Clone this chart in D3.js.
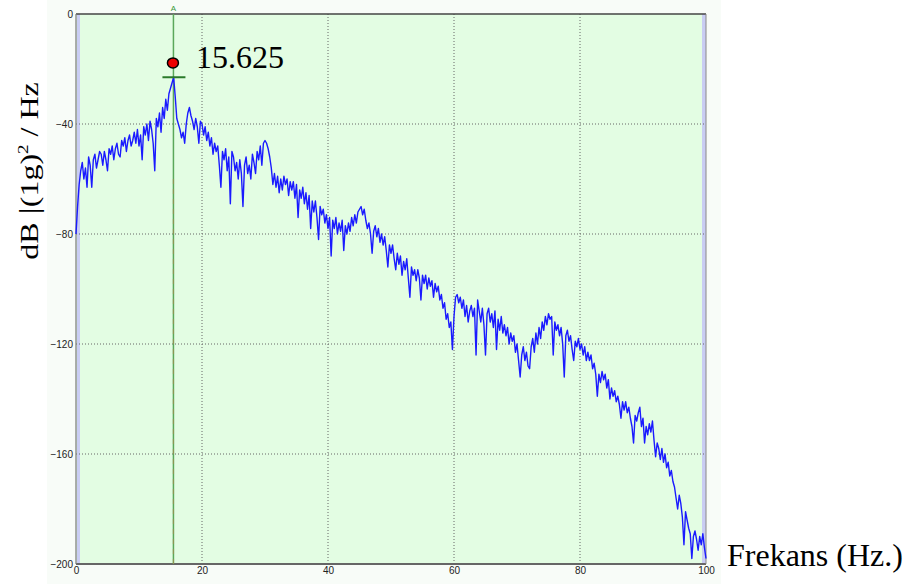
<!DOCTYPE html>
<html><head><meta charset="utf-8">
<script src="https://cdn.jsdelivr.net/npm/d3@7"></script>
<style>body{margin:0;background:#fff}svg{display:block}</style>
</head><body>
<script>
const freqStep = 0.25;
const psdValues = [
-80,-70,-62,-57,-54,-60,-56,-63,-52,-55,-63,-53,-51,-56,-53,-50,-51,-55,-50,-53,
-57,-49,-51,-48,-53,-49,-47,-51,-52,-46,-48,-45,-50,-46,-44,-48,-46,-43,-47,-42,
-48,-44,-53,-41,-44,-40,-46,-39,-42,-47,-57,-38,-41,-36,-43,-34,-38,-31,-35,-29,
-27,-25,-23,-30,-38,-40,-42,-45,-43,-47,-40,-36,-34,-37,-39,-42,-38,-41,-47,-39,
-40,-44,-41,-46,-43,-48,-45,-51,-47,-50,-48,-55,-63,-50,-53,-49,-57,-52,-69,-50,
-52,-57,-54,-60,-53,-58,-70,-55,-52,-58,-55,-60,-51,-54,-58,-50,-53,-48,-55,-47,
-46,-47,-49,-52,-56,-62,-58,-63,-59,-65,-60,-64,-59,-62,-60,-66,-61,-64,-61,-67,
-62,-74,-64,-67,-63,-69,-65,-71,-66,-78,-68,-72,-68,-74,-82,-70,-73,-71,-76,-73,
-78,-74,-88,-75,-78,-74,-80,-76,-79,-75,-86,-77,-80,-76,-79,-74,-77,-73,-76,-72,
-71,-70,-73,-71,-75,-78,-76,-80,-87,-79,-77,-81,-78,-83,-80,-84,-81,-86,-92,-84,
-87,-84,-89,-93,-87,-91,-88,-95,-90,-93,-89,-96,-103,-92,-95,-93,-97,-93,-96,-104,
-95,-98,-95,-100,-96,-99,-97,-103,-98,-101,-99,-104,-102,-107,-105,-111,-109,-114,-112,-122,
-110,-103,-102,-105,-103,-107,-104,-110,-106,-112,-108,-106,-110,-107,-124,-104,-108,-112,-107,-113,
-124,-109,-107,-112,-109,-114,-108,-122,-111,-115,-110,-116,-113,-117,-114,-120,-116,-119,-117,-123,
-120,-126,-132,-124,-121,-126,-123,-128,-129,-121,-118,-123,-116,-120,-114,-118,-112,-115,-110,-113,
-109,-111,-110,-124,-112,-115,-113,-117,-114,-120,-132,-117,-115,-119,-117,-122,-126,-119,-121,-118,
-122,-120,-124,-121,-126,-123,-126,-124,-129,-127,-131,-139,-131,-134,-130,-133,-131,-136,-133,-140,
-136,-139,-137,-141,-139,-142,-147,-141,-144,-141,-145,-143,-147,-150,-156,-146,-148,-145,-143,-150,
-147,-156,-150,-153,-149,-152,-148,-155,-161,-156,-158,-162,-158,-163,-160,-165,-163,-168,-166,-170,
-172,-176,-180,-175,-178,-183,-193,-181,-184,-187,-189,-198,-190,-188,-191,-195,-190,-193,-189,-194,
-198];
const xTicks = [0,20,40,60,80,100];
const yTicks = [0,-40,-80,-120,-160,-200];
const markerFreq = [15.625];
const markerLabel = ["15.625"];

const W=907,H=584;
const svg=d3.select("body").append("svg").attr("width",W).attr("height",H);
const x=d3.scaleLinear().domain([0,100]).range([76,706]);
const y=d3.scaleLinear().domain([-200,0]).range([564,14]);

svg.append("rect").attr("x",47).attr("y",0).attr("width",674).attr("height",H).attr("fill","#f8fcf8");
svg.append("rect").attr("x",x(0)).attr("y",y(0)).attr("width",x(100)-x(0)).attr("height",y(-200)-y(0)).attr("fill","#e3fde3");
svg.append("rect").attr("x",x(0)+1).attr("y",y(0)).attr("width",3).attr("height",y(-200)-y(0)).attr("fill","#c9cdf3");
svg.append("rect").attr("x",x(100)-4).attr("y",y(0)).attr("width",4).attr("height",y(-200)-y(0)).attr("fill","#c9cdf3");

// grid
svg.append("g").selectAll("line").data(xTicks.filter(d=>d>0&&d<100)).join("line")
 .attr("x1",d=>x(d)).attr("x2",d=>x(d)).attr("y1",y(0)).attr("y2",y(-200))
 .attr("stroke","#666").attr("stroke-width",1).attr("stroke-dasharray","1,2");
svg.append("g").selectAll("line").data(yTicks.filter(d=>d<0&&d>-200)).join("line")
 .attr("x1",x(0)).attr("x2",x(100)).attr("y1",d=>y(d)).attr("y2",d=>y(d))
 .attr("stroke","#666").attr("stroke-width",1).attr("stroke-dasharray","1,2");

// border
svg.append("line").attr("x1",x(0)).attr("x2",x(100)).attr("y1",y(0)).attr("y2",y(0)).attr("stroke","#444").attr("stroke-width",1.5);
svg.append("line").attr("x1",x(0)).attr("x2",x(100)).attr("y1",y(-200)).attr("y2",y(-200)).attr("stroke","#666").attr("stroke-width",2);
svg.append("line").attr("x1",x(0)).attr("x2",x(0)).attr("y1",y(0)).attr("y2",y(-200)).attr("stroke","#777").attr("stroke-width",1.2);
svg.append("line").attr("x1",x(100)).attr("x2",x(100)).attr("y1",y(0)).attr("y2",y(-200)).attr("stroke","#888").attr("stroke-width",1);

// axes tick labels
const yAxis=d3.axisLeft(y).tickValues(yTicks).tickSize(0).tickPadding(3);
const gy=svg.append("g").attr("transform",`translate(${x(0)},0)`).call(yAxis);
gy.select(".domain").remove();
gy.selectAll("text").attr("font-family","Arial, Liberation Sans, sans-serif").attr("font-size",10).attr("fill","#222");
const xAxis=d3.axisBottom(x).tickValues(xTicks).tickSize(0).tickPadding(3);
const gx=svg.append("g").attr("transform",`translate(0,${y(-200)})`).call(xAxis);
gx.select(".domain").remove();
gx.selectAll("text").attr("font-family","Arial, Liberation Sans, sans-serif").attr("font-size",10).attr("fill","#222");

// marker vertical line
svg.selectAll(".mk").data(markerFreq).join("line").attr("class","mk")
 .attr("x1",d=>x(d)-1).attr("x2",d=>x(d)-1).attr("y1",y(0)).attr("y2",y(-200))
 .attr("stroke","#5aa85a").attr("stroke-width",1.5);
svg.selectAll(".mkd").data(markerFreq).join("line").attr("class","mkd")
 .attr("x1",d=>x(d)-1).attr("x2",d=>x(d)-1).attr("y1",y(-60)).attr("y2",y(-200))
 .attr("stroke","#b08a50").attr("stroke-width",1.2).attr("stroke-dasharray","5,5").attr("opacity",0.6);
svg.selectAll(".mka").data(markerFreq).join("text").attr("class","mka")
 .attr("x",d=>x(d)-1).attr("y",11).attr("text-anchor","middle")
 .attr("font-family","Arial, Liberation Sans, sans-serif").attr("font-size",8).attr("fill","#3a9a3a").text("A");

// data line
const data=psdValues.map((v,i)=>({f:i*freqStep,v}));
const line=d3.line().x(d=>x(d.f)).y(d=>y(d.v));
svg.append("path").datum(data).attr("d",line).attr("fill","none").attr("stroke","#1a1aff").attr("stroke-width",1.4).attr("stroke-linejoin","round");

// marker annotations
svg.selectAll(".mkt").data(markerFreq).join("line").attr("class","mkt")
 .attr("x1",d=>x(d)-12).attr("x2",d=>x(d)+11).attr("y1",y(-23)).attr("y2",y(-23))
 .attr("stroke","#2a7a2a").attr("stroke-width",2);
svg.selectAll(".mkc").data(markerFreq).join("ellipse").attr("class","mkc")
 .attr("cx",d=>x(d)-1.5).attr("cy",y(-17.8)).attr("rx",5.5).attr("ry",5)
 .attr("fill","#ee0000").attr("stroke","#000").attr("stroke-width",1.5);
svg.selectAll(".mkl").data(markerLabel).join("text").attr("class","mkl")
 .attr("x",196).attr("y",68).attr("font-family","Liberation Serif, Times New Roman, serif").attr("font-size",32).attr("fill","#000").text(d=>d);

// axis titles
svg.append("text").attr("x",727).attr("y",566).attr("font-family","Liberation Serif, Times New Roman, serif").attr("font-size",32).attr("fill","#000").text("Frekans (Hz.)");
const yt=svg.append("text").attr("transform","translate(38,171) rotate(-90) scale(1,0.78)").attr("text-anchor","middle")
 .attr("font-family","Liberation Serif, Times New Roman, serif").attr("font-size",32).attr("fill","#000");
yt.append("tspan").text("dB ");
yt.append("tspan").text("|").attr("font-size",36).attr("font-weight","300");
yt.append("tspan").text("(1g)");
yt.append("tspan").text("2").attr("font-size",19).attr("dy",-13);
yt.append("tspan").text(" / Hz").attr("dy",13);
</script>
</body></html>
